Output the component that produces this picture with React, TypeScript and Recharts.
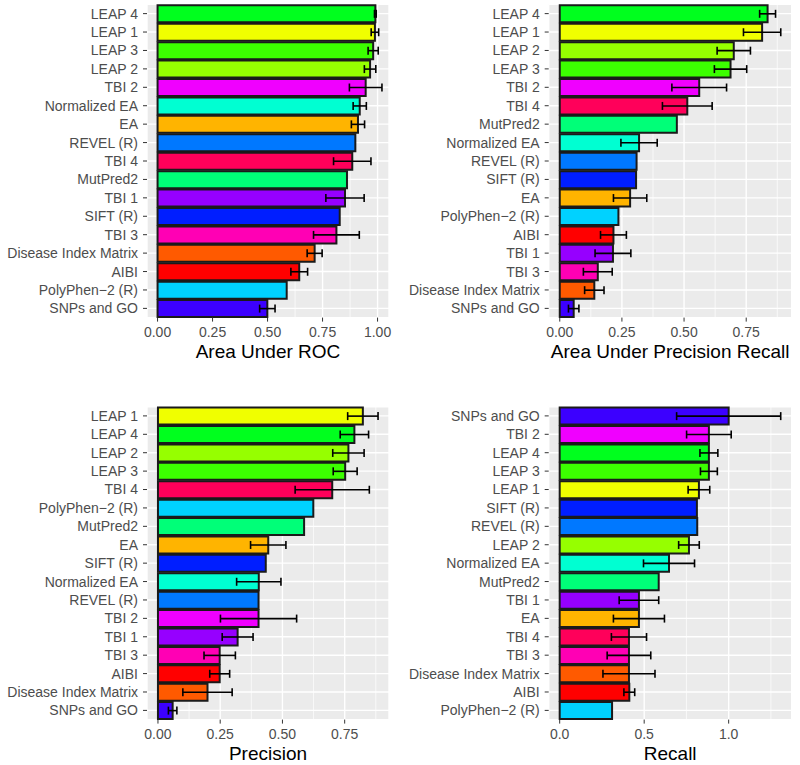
import { Bar, BarChart, CartesianGrid, Cell, ErrorBar, XAxis, YAxis } from "recharts";

// R rainbow(17), one hue per method in alphabetical order
const COLORS: Record<string, string> = {
  AIBI: "#FF0000",
  "Disease Index Matrix": "#FF5A00",
  EA: "#FFB400",
  "LEAP 1": "#F0FF00",
  "LEAP 2": "#96FF00",
  "LEAP 3": "#3CFF00",
  "LEAP 4": "#00FF1E",
  MutPred2: "#00FF78",
  "Normalized EA": "#00FFD2",
  "PolyPhen−2 (R)": "#00D2FF",
  "REVEL (R)": "#0078FF",
  "SIFT (R)": "#001EFF",
  "SNPs and GO": "#3C00FF",
  "TBI 1": "#9600FF",
  "TBI 2": "#F000FF",
  "TBI 3": "#FF00B4",
  "TBI 4": "#FF005A",
};

const rocNames = [
  "LEAP 4", "LEAP 1", "LEAP 3", "LEAP 2", "TBI 2", "Normalized EA", "EA", "REVEL (R)", "TBI 4",
  "MutPred2", "TBI 1", "SIFT (R)", "TBI 3", "Disease Index Matrix", "AIBI", "PolyPhen−2 (R)", "SNPs and GO",
];
const rocValues = [0.99, 0.988, 0.98, 0.966, 0.946, 0.919, 0.911, 0.899, 0.885, 0.861, 0.852, 0.828, 0.813, 0.714, 0.644, 0.587, 0.499];
const rocErrors = [0.004, 0.017, 0.023, 0.026, 0.074, 0.03, 0.03, undefined, 0.085, undefined, 0.087, undefined, 0.104, 0.034, 0.038, undefined, 0.035];

const prNames = [
  "LEAP 4", "LEAP 1", "LEAP 2", "LEAP 3", "TBI 2", "TBI 4", "MutPred2", "Normalized EA", "REVEL (R)",
  "SIFT (R)", "EA", "PolyPhen−2 (R)", "AIBI", "TBI 1", "TBI 3", "Disease Index Matrix", "SNPs and GO",
];
const prValues = [0.836, 0.814, 0.7, 0.687, 0.561, 0.513, 0.471, 0.319, 0.309, 0.307, 0.283, 0.236, 0.216, 0.214, 0.153, 0.139, 0.056];
const prErrors = [0.032, 0.075, 0.067, 0.065, 0.11, 0.1, undefined, 0.073, undefined, undefined, 0.067, undefined, 0.052, 0.072, 0.058, 0.039, 0.021];

const precNames = [
  "LEAP 1", "LEAP 4", "LEAP 2", "LEAP 3", "TBI 4", "PolyPhen−2 (R)", "MutPred2", "EA", "SIFT (R)",
  "Normalized EA", "REVEL (R)", "TBI 2", "TBI 1", "TBI 3", "AIBI", "Disease Index Matrix", "SNPs and GO",
];
const precValues = [0.823, 0.789, 0.765, 0.752, 0.7, 0.624, 0.587, 0.443, 0.433, 0.405, 0.404, 0.404, 0.32, 0.248, 0.248, 0.199, 0.059];
const precErrors = [0.061, 0.057, 0.063, 0.048, 0.149, undefined, undefined, 0.071, undefined, 0.089, undefined, 0.153, 0.062, 0.063, 0.04, 0.099, 0.017];

const recNames = [
  "SNPs and GO", "TBI 2", "LEAP 4", "LEAP 3", "LEAP 1", "SIFT (R)", "REVEL (R)", "LEAP 2", "Normalized EA",
  "MutPred2", "TBI 1", "EA", "TBI 4", "TBI 3", "Disease Index Matrix", "AIBI", "PolyPhen−2 (R)",
];
const recValues = [1.0, 0.883, 0.883, 0.883, 0.824, 0.812, 0.814, 0.765, 0.647, 0.586, 0.469, 0.469, 0.41, 0.41, 0.41, 0.412, 0.31];
const recErrors = [0.308, 0.132, 0.053, 0.05, 0.064, undefined, undefined, 0.061, 0.151, undefined, 0.117, 0.151, 0.104, 0.129, 0.154, 0.032, undefined];

const ticks4 = [0, 0.25, 0.5, 0.75, 1];
const minor4 = [0.125, 0.375, 0.625, 0.875];
const ticks3 = [0, 0.25, 0.5, 0.75];
const recTicks = [0, 0.5, 1];
const recMinor = [0.25, 0.75, 1.25];

const FONT = "'Liberation Sans', Arial, sans-serif";

function toRows(names: string[], values: number[], errors: (number | undefined)[]) {
  return names.map((name, i) => ({ name, value: values[i], err: errors[i] }));
}

type PanelProps = {
  names: string[];
  values: number[];
  errors: (number | undefined)[];
  left: number;
  top: number;
  height: number;
  marginTop: number;
  marginRight: number;
  yWidth: number;
  xHeight: number;
  domain: [number, number];
  ticks: number[];
  minor: number[];
  digits: number;
  title: string;
  titleOffset: number;
};

function Panel(p: PanelProps) {
  const data = toRows(p.names, p.values, p.errors);
  return (
    <div style={{ position: "absolute", left: p.left, top: p.top }}>
      <BarChart
        width={400}
        height={p.height}
        data={data}
        layout="vertical"
        barCategoryGap="5%"
        margin={{ top: p.marginTop, right: p.marginRight, bottom: 0, left: 0 }}
      >
        <CartesianGrid fill="#EBEBEB" stroke="#FFFFFF" strokeWidth={0.7} horizontal={false} verticalValues={p.minor} />
        <CartesianGrid stroke="#FFFFFF" strokeWidth={1.4} />
        <XAxis
          type="number"
          domain={p.domain}
          allowDataOverflow
          ticks={p.ticks}
          tickFormatter={(v: number) => v.toFixed(p.digits)}
          axisLine={false}
          tickLine={{ stroke: "#333333" }}
          tickSize={4}
          tickMargin={5}
          tick={{ fill: "#4D4D4D", fontSize: 14, fontFamily: FONT }}
          height={p.xHeight}
          label={{
            value: p.title,
            position: "insideBottom",
            offset: p.titleOffset,
            fill: "#000000",
            fontSize: 19,
            fontFamily: FONT,
          }}
        />
        <YAxis
          type="category"
          dataKey="name"
          width={p.yWidth}
          axisLine={false}
          tickLine={{ stroke: "#333333" }}
          tickSize={4}
          tickMargin={5}
          interval={0}
          tick={{ fill: "#4D4D4D", fontSize: 14, fontFamily: FONT }}
        />
        <Bar dataKey="value" stroke="#1A1A1A" strokeWidth={2} isAnimationActive={false}>
          {data.map((d) => (
            <Cell key={d.name} fill={COLORS[d.name]} />
          ))}
          <ErrorBar dataKey="err" direction="x" width={4} stroke="#000000" strokeWidth={1.6} isAnimationActive={false} />
        </Bar>
      </BarChart>
    </div>
  );
}

export default function App() {
  return (
    <div style={{ position: "absolute", left: 0, top: 0, width: 800, height: 765, background: "#FFFFFF" }}>
      <Panel
        names={rocNames} values={rocValues} errors={rocErrors}
        left={0} top={0} height={383} marginTop={4.4} marginRight={11} yWidth={147} xHeight={65.4}
        domain={[-0.048, 1.052]} ticks={ticks4} minor={minor4} digits={2}
        title="Area Under ROC" titleOffset={25.5}
      />
      <Panel
        names={prNames} values={prValues} errors={prErrors}
        left={400} top={0} height={383} marginTop={4.4} marginRight={8.3} yWidth={148.7} xHeight={65.4}
        domain={[-0.0445, 0.933]} ticks={ticks3} minor={minor4} digits={2}
        title="Area Under Precision Recall" titleOffset={25.5}
      />
      <Panel
        names={precNames} values={precValues} errors={precErrors}
        left={0} top={383} height={382} marginTop={23.7} marginRight={11} yWidth={147} xHeight={45.4}
        domain={[-0.044, 0.928]} ticks={ticks3} minor={minor4} digits={2}
        title="Precision" titleOffset={5.5}
      />
      <Panel
        names={recNames} values={recValues} errors={recErrors}
        left={400} top={383} height={382} marginTop={23.7} marginRight={8.3} yWidth={148.7} xHeight={45.4}
        domain={[-0.065, 1.373]} ticks={recTicks} minor={recMinor} digits={1}
        title="Recall" titleOffset={5.5}
      />
    </div>
  );
}
